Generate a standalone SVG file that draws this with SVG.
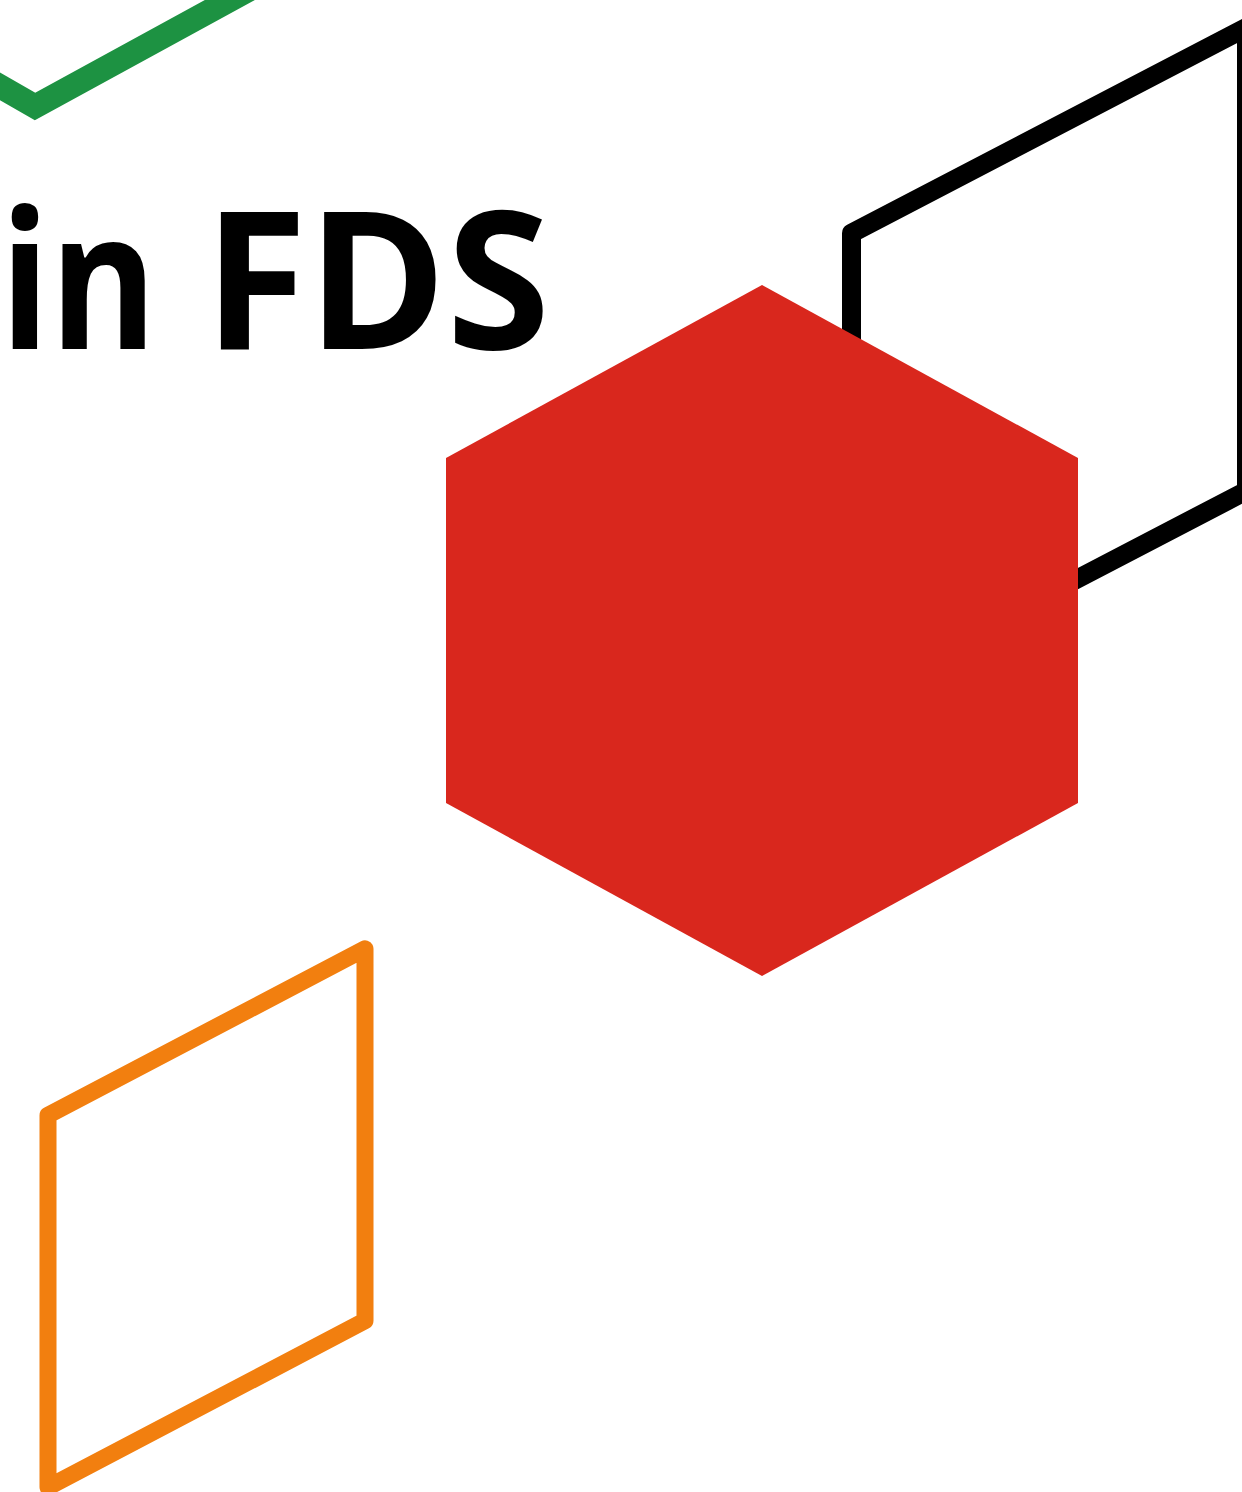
<svg xmlns="http://www.w3.org/2000/svg" width="1242" height="1492" viewBox="0 0 1242 1492">
  <style>
    .outline { fill: none; stroke-linejoin: round; }
    .title { font-family: "Open Sans", "Noto Sans", "DejaVu Sans", sans-serif; font-weight: 700; fill: #000000; }
  </style>
  <rect width="1242" height="1492" fill="#ffffff"/>

  <!-- green chevron, top left -->
  <g id="green-chevron">
    <polyline points="-60,52 35,106.5 250,-11" fill="none" stroke="#1D9242" stroke-width="24" style="stroke-linejoin: miter"/>
  </g>

  <!-- title -->
  <g id="title">
    <text class="title" y="349" font-size="192"><tspan x="0" textLength="157" lengthAdjust="spacingAndGlyphs">in</tspan> <tspan x="204" textLength="346" lengthAdjust="spacingAndGlyphs">FDS</tspan></text>
  </g>

  <!-- black parallelogram, right -->
  <g id="black-frame">
    <polygon class="outline" points="851.5,233.2 1246.5,27.4 1246.5,490.8 851.5,696.6" stroke="#000000" stroke-width="19"/>
  </g>

  <!-- red hexagon -->
  <g id="red-hexagon">
    <polygon points="762,285 1078,458 1078,803 762,976 446,803 446,458" fill="#D9271D"/>
  </g>

  <!-- orange parallelogram, bottom left -->
  <g id="orange-frame">
    <polygon class="outline" points="48,1115.2 365,948.8 365,1320.8 48,1487.2" stroke="#F27F0F" stroke-width="17"/>
  </g>
</svg>
